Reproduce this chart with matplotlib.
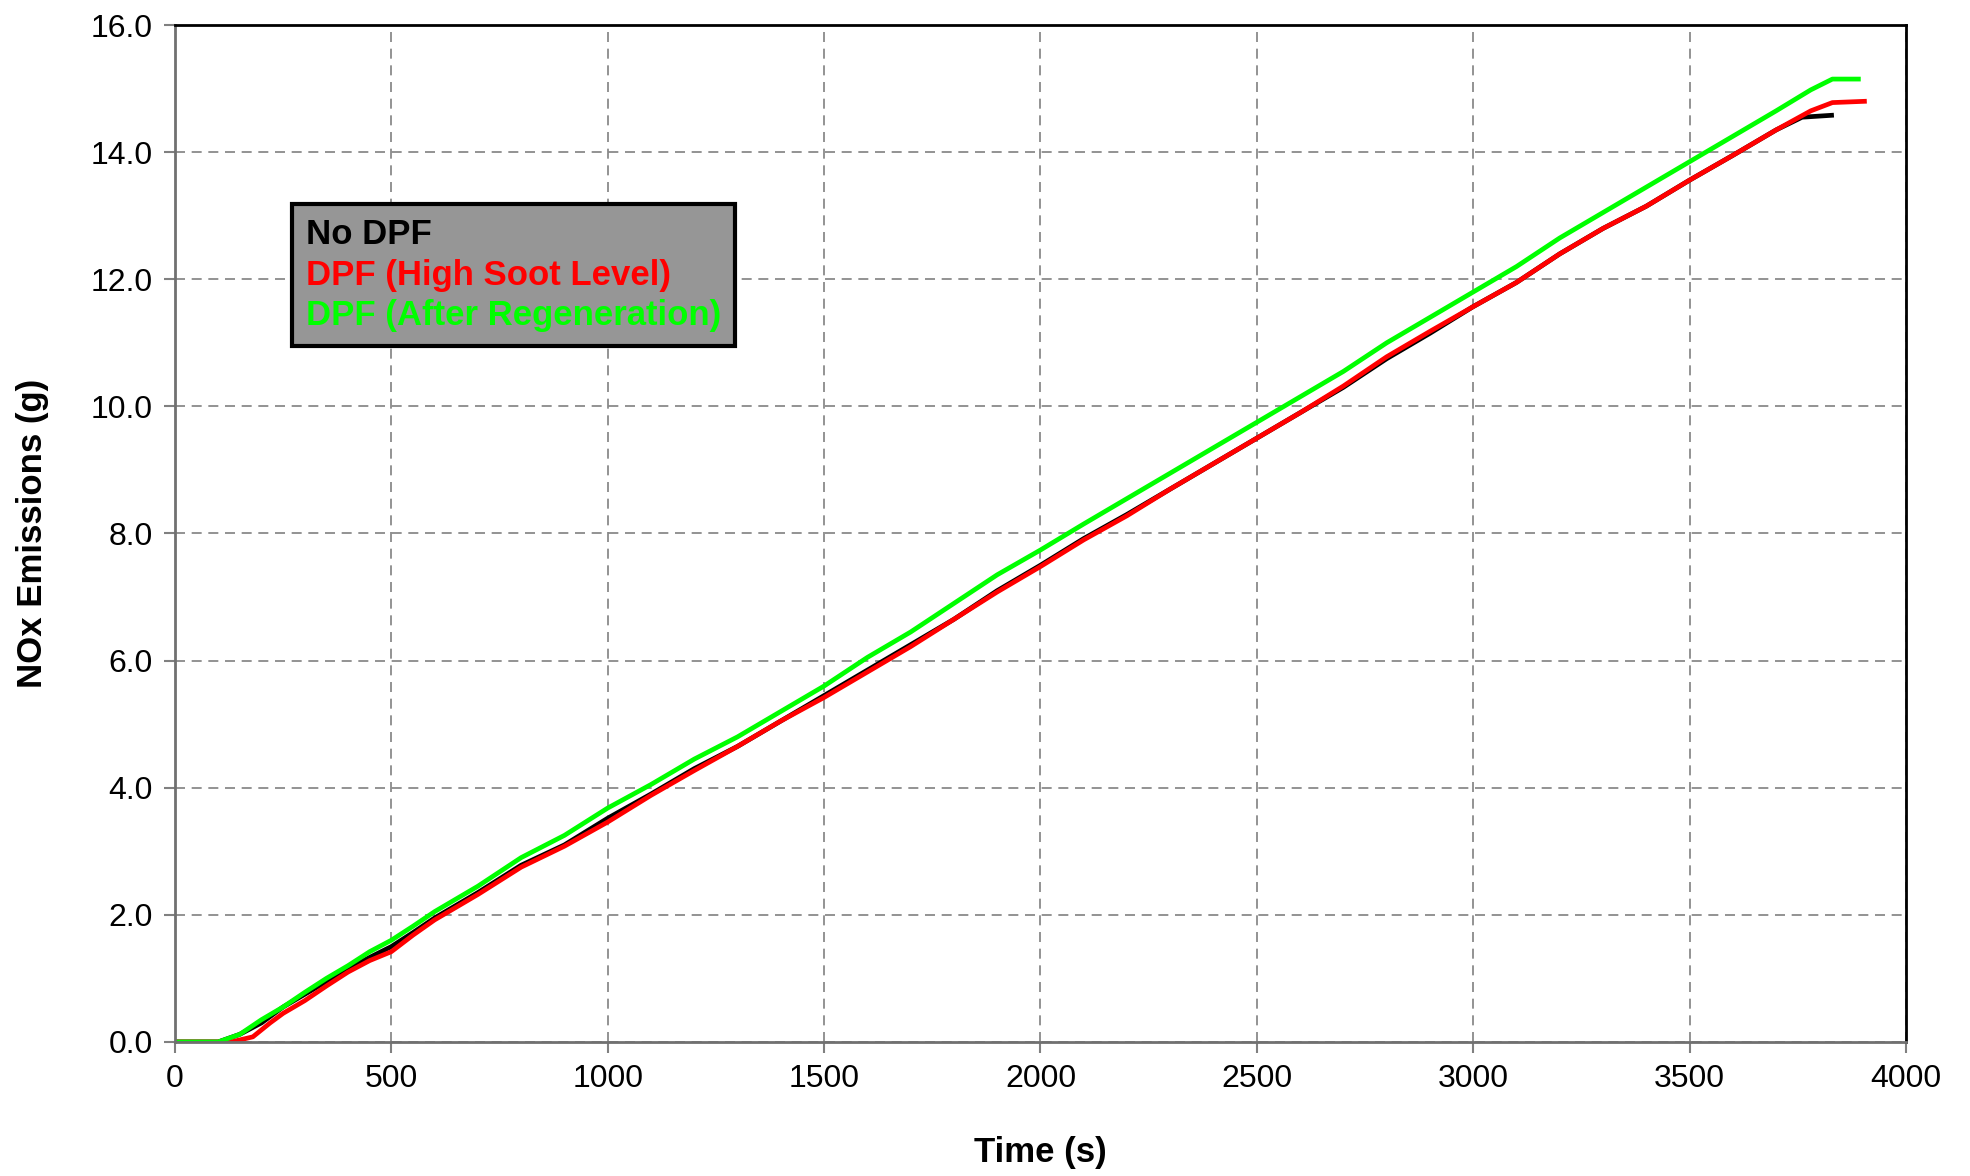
import numpy as np
import matplotlib
matplotlib.use('Agg')
import matplotlib.pyplot as plt

plt.rcParams['font.family'] = ['Liberation Sans', 'DejaVu Sans']

# ── Data ────────────────────────────────────────────────────────────
time_no_dpf = [0, 100, 150, 200, 250, 300, 350, 400, 450, 500, 550, 600, 700, 800,
               900, 1000, 1100, 1200, 1300, 1400, 1500, 1600, 1700, 1800, 1900,
               2000, 2100, 2200, 2300, 2400, 2500, 2600, 2700, 2800, 2900, 3000,
               3100, 3200, 3300, 3400, 3500, 3600, 3700, 3760, 3828]
nox_no_dpf = [0.0, 0.0, 0.12, 0.3, 0.55, 0.75, 0.95, 1.15, 1.33, 1.5, 1.72, 1.95,
              2.35, 2.78, 3.1, 3.52, 3.9, 4.3, 4.65, 5.05, 5.45, 5.85, 6.25, 6.65,
              7.1, 7.5, 7.92, 8.3, 8.7, 9.1, 9.5, 9.9, 10.3, 10.75, 11.15, 11.57,
              11.95, 12.4, 12.8, 13.15, 13.56, 13.95, 14.35, 14.55, 14.58]

time_high_soot = [0, 130, 180, 220, 250, 300, 350, 400, 450, 500, 550, 600, 700, 800,
                  900, 1000, 1100, 1200, 1300, 1400, 1500, 1600, 1700, 1800, 1900,
                  2000, 2100, 2200, 2300, 2400, 2500, 2600, 2700, 2800, 2900, 3000,
                  3100, 3200, 3300, 3400, 3500, 3600, 3700, 3780, 3830, 3904]
nox_high_soot = [0.0, 0.0, 0.08, 0.3, 0.45, 0.65, 0.88, 1.1, 1.28, 1.42, 1.68, 1.92,
                 2.32, 2.75, 3.08, 3.46, 3.88, 4.27, 4.65, 5.05, 5.42, 5.82, 6.22,
                 6.65, 7.08, 7.48, 7.9, 8.28, 8.7, 9.1, 9.5, 9.9, 10.32, 10.78,
                 11.18, 11.57, 11.95, 12.4, 12.8, 13.15, 13.56, 13.95, 14.35, 14.65,
                 14.78, 14.8]

time_after_regen = [0, 100, 150, 200, 250, 300, 350, 400, 450, 500, 550, 600, 700,
                    800, 900, 1000, 1100, 1200, 1300, 1400, 1500, 1600, 1700, 1800,
                    1900, 2000, 2100, 2200, 2300, 2400, 2500, 2600, 2700, 2800, 2900,
                    3000, 3100, 3200, 3300, 3400, 3500, 3600, 3700, 3780, 3830, 3890]
nox_after_regen = [0.0, 0.0, 0.12, 0.35, 0.55, 0.78, 1.0, 1.2, 1.42, 1.6, 1.82,
                   2.05, 2.45, 2.9, 3.25, 3.68, 4.05, 4.45, 4.8, 5.2, 5.6, 6.05, 6.45,
                   6.9, 7.35, 7.74, 8.15, 8.55, 8.95, 9.35, 9.75, 10.15, 10.55, 11.0,
                   11.4, 11.8, 12.2, 12.65, 13.05, 13.45, 13.85, 14.25, 14.65,
                   14.98, 15.15, 15.15]

series_labels = ['No DPF', 'DPF (High Soot Level)', 'DPF (After Regeneration)']
series_colors = ['#000000', '#ff0000', '#00ff00']

fig = plt.figure(figsize=(19.7, 11.76), dpi=100)
ax = fig.add_axes([0.0888, 0.114, 0.8787, 0.8647])

for t, y, lab, col in zip([time_no_dpf, time_high_soot, time_after_regen],
                          [nox_no_dpf, nox_high_soot, nox_after_regen],
                          series_labels, series_colors):
    ax.plot(t, y, color=col, lw=3.4, label=lab, solid_joinstyle='round')

ax.set_xlim(0, 4000)
ax.set_ylim(0, 16)
ax.set_xticks(np.arange(0, 4001, 500))
ax.set_yticks(np.arange(0, 16.1, 2))
ax.yaxis.set_major_formatter(matplotlib.ticker.FormatStrFormatter('%.1f'))

ax.grid(True, color='#808080', linestyle=(0, (6, 4)), lw=1.2)
ax.set_axisbelow(True)

for side in ['left', 'bottom']:
    ax.spines[side].set_color('#707070')
    ax.spines[side].set_linewidth(2)
for side in ['top', 'right']:
    ax.spines[side].set_color('black')
    ax.spines[side].set_linewidth(2)

ax.tick_params(axis='both', direction='out', length=8, width=1.5,
               color='#808080', labelsize=23, pad=8)

ax.set_xlabel('Time (s)', fontsize=25, fontweight='bold', labelpad=30)
ax.set_ylabel('NOx Emissions (g)', fontsize=25, fontweight='bold', labelpad=30)

leg = ax.legend(loc='upper left', bbox_to_anchor=(0.0676, 0.824),
                handlelength=0, handletextpad=0,
                prop={'weight': 'bold', 'size': 25},
                frameon=True, fancybox=False, borderpad=0.4,
                borderaxespad=0, labelspacing=0.22)
frame = leg.get_frame()
frame.set_facecolor('#969696')
frame.set_edgecolor('black')
frame.set_linewidth(3)
frame.set_alpha(1)
for txt, col in zip(leg.get_texts(), series_colors):
    txt.set_color(col)
for h in leg.legend_handles:
    h.set_visible(False)

fig.savefig('out.png', dpi=100)
